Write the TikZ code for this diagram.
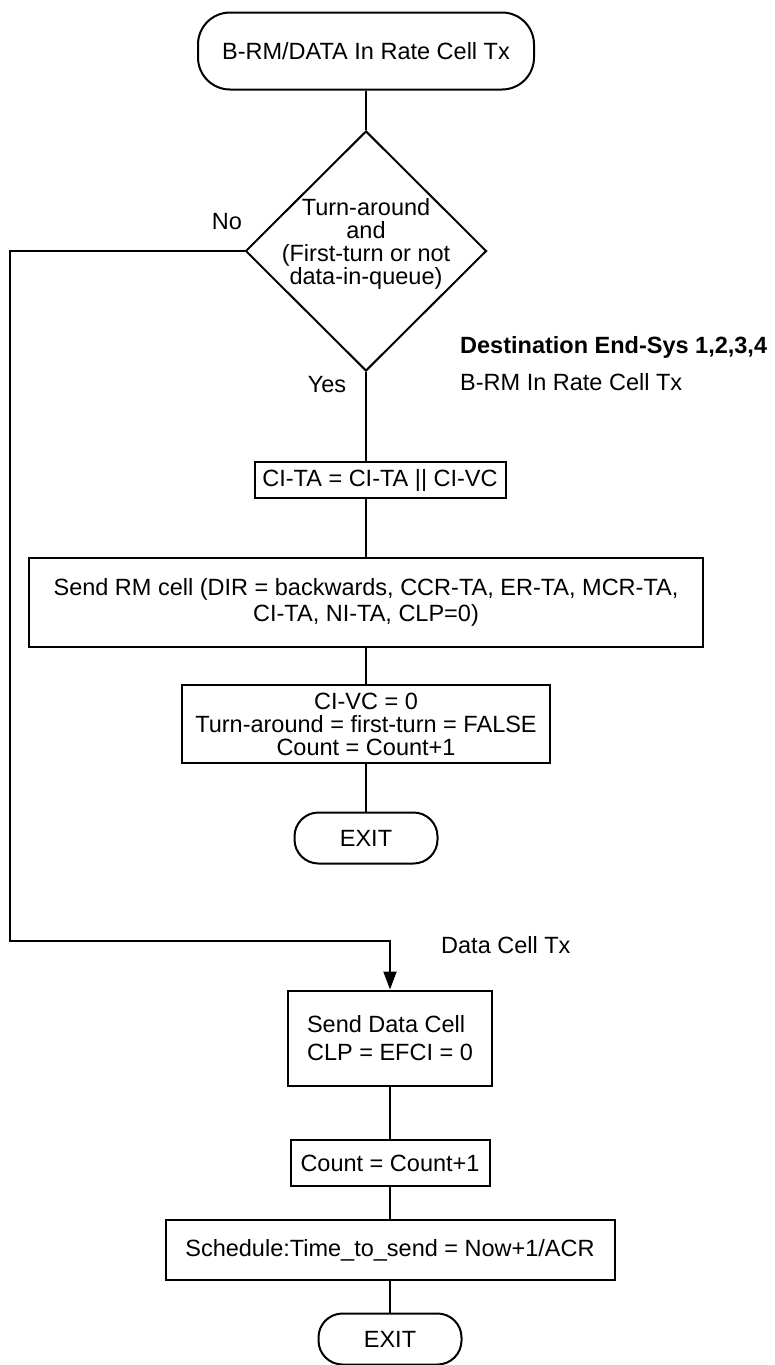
\documentclass[tikz,border=0pt]{standalone}
\usepackage{fontspec}
\setmainfont{Liberation Sans}
\usetikzlibrary{arrows.meta,positioning,shapes.geometric}
\tikzset{
  flow/.style={line width=2pt},
  termbox/.style={draw, line width=2pt, rounded corners=24pt, inner sep=0pt, align=center},
  procbox/.style={draw, line width=2pt, inner sep=0pt, align=center},
  decbox/.style={draw, diamond, line width=2pt, inner sep=0pt, minimum width=241pt, minimum height=240pt},
  lbl/.style={inner sep=0pt},
}

\begin{document}
\begin{tikzpicture}[x=1pt, y=-1pt, font=\fontsize{23.5pt}{23pt}\selectfont]
  \useasboundingbox (0,0) rectangle (774,1365);
  % Start terminal
  \node[termbox, rounded corners=32pt, minimum width=336pt, minimum height=77pt] (start) at (366,51) {B-RM/DATA In Rate Cell Tx};
  % Decision
  \node[decbox] (dec) at (366,251) {};
  \node[lbl, align=center] (dectxt) at (366,244) {Turn-around\\and\\(First-turn or not\\data-in-queue)};
  \node[lbl] (no) at (227,222) {No};
  \node[lbl] (yes) at (327,385) {Yes};
  % Side captions
  \node[lbl, anchor=west] (dest) at (460,347) {\textbf{Destination End-Sys 1,2,3,4}};
  \node[lbl, anchor=west] (brm) at (460,382) {B-RM In Rate Cell Tx};
  \node[lbl, anchor=west] (dcap) at (441,945) {Data Cell Tx};
  % B-RM branch
  \node[procbox, minimum width=251pt, minimum height=36pt] (cita) at (380,480) {CI-TA = CI-TA || CI-VC};
  \node[procbox, minimum width=674pt, minimum height=89pt] (sendrm) at (366,602) {Send RM cell (DIR = backwards, CCR-TA, ER-TA, MCR-TA,\\[3pt]CI-TA, NI-TA, CLP=0)};
  \node[procbox, minimum width=368pt, minimum height=78pt] (civc) at (366,724) {CI-VC = 0\\Turn-around = first-turn = FALSE\\Count = Count+1};
  \node[termbox, minimum width=143pt, minimum height=51pt] (exita) at (366,838) {EXIT};
  % Data branch
  \node[procbox, align=left, minimum width=204pt, minimum height=95pt] (sdata) at (390,1038) {Send Data Cell\\[5pt]CLP = EFCI = 0};
  \node[procbox, minimum width=199pt, minimum height=46pt] (count) at (390,1163) {Count = Count+1};
  \node[procbox, minimum width=449pt, minimum height=60pt] (sched) at (390,1250) {Schedule:Time\_to\_send = Now+1/ACR};
  \node[termbox, minimum width=143pt, minimum height=51pt] (exitb) at (390,1339) {EXIT};
  % Connectors
  \coordinate (nocorner) at (10,941);
  \draw[flow] (start) -- (dec);
  \draw[flow] (dec.south) -- (dec.south |- cita.north);
  \draw[flow] (sendrm.north |- cita.south) -- (sendrm.north);
  \draw[flow] (sendrm) -- (civc);
  \draw[flow] (civc) -- (exita);
  \draw[flow, -{Triangle[length=18pt,width=13pt]}] (dec.west) -| (nocorner) -| (sdata.north);
  \draw[flow] (sdata) -- (count);
  \draw[flow] (count) -- (sched);
  \draw[flow] (sched) -- (exitb);
\end{tikzpicture}
\end{document}
